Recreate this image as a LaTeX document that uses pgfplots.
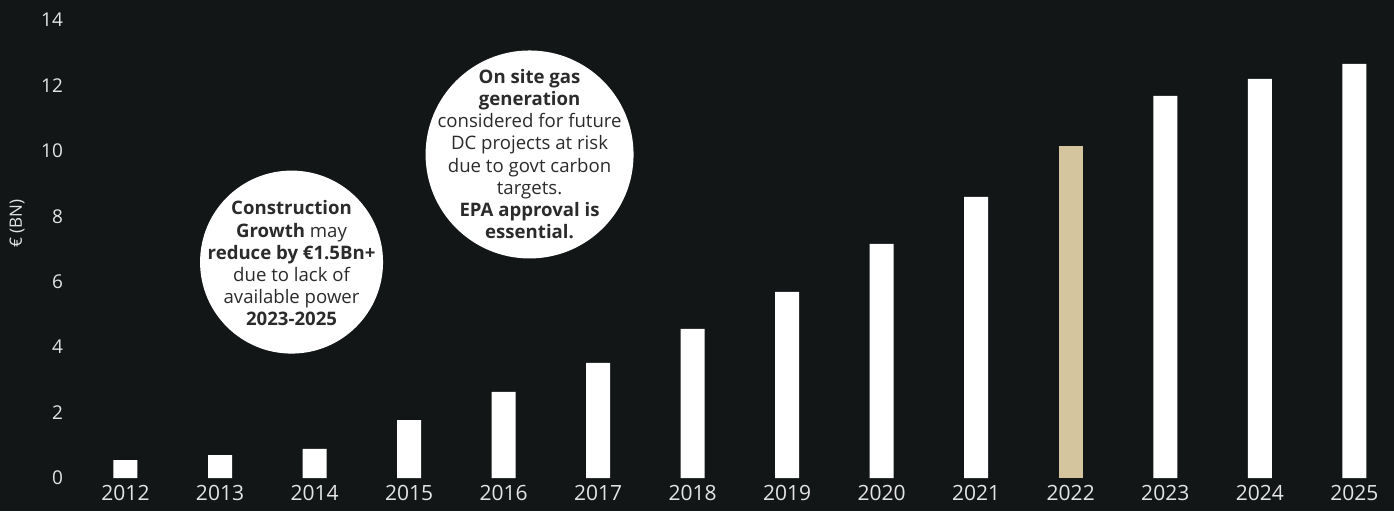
\documentclass[border=0pt]{standalone}
\usepackage{fontspec}
\setmainfont{Open Sans}
\usepackage{pgfplots}
\pgfplotsset{compat=1.18}
\definecolor{bg}{HTML}{131617}
\definecolor{beige}{HTML}{D4C59E}
\definecolor{lbl}{HTML}{E4E4E4}
\definecolor{ink}{HTML}{2B2B2B}

\begin{document}
\begin{tikzpicture}
\fill[bg] (0,0) rectangle (697pt,255.5pt);
\useasboundingbox (0,0) rectangle (697pt,255.5pt);
\begin{axis}[
  at={(35pt,16.5pt)}, anchor=south west,
  scale only axis,
  width=662pt, height=229pt,
  xmin=-0.587, xmax=13.42,
  ymin=0, ymax=14,
  ytick={0,2,...,14},
  xtick={0,...,13},
  xticklabels={2012,2013,2014,2015,2016,2017,2018,2019,2020,2021,2022,2023,2024,2025},
  ybar, bar width=12pt, bar shift=0pt,
  axis line style={draw=none},
  major tick length=0pt,
  /pgf/number format/assume math mode=true,
  yticklabel style={font=\fontsize{9.5}{11}\selectfont, text=lbl},
  xticklabel style={font=\fontsize{10.5}{12}\selectfont, text=lbl},
  ylabel={€ (BN)},
  ylabel style={font=\fontsize{8.5}{10}\selectfont, text=lbl,
    at={(axis description cs:-0.040,0.555)}, anchor=center},
  clip=false,
]
  % white bars
  \addplot[fill=white, draw=none] coordinates {
    (0,0.55) (1,0.70) (2,0.89) (3,1.77) (4,2.63) (5,3.52) (6,4.56)
    (7,5.69) (8,7.16) (9,8.59) (11,11.68) (12,12.20) (13,12.66)
  };
  % highlighted 2022
  \addplot[fill=beige, draw=none] coordinates {(10,10.15)};

  % callout circles
  \fill[white] (axis cs:1.757,6.60) circle[radius=45.75pt];
  \node[align=center, text=ink, font=\fontsize{9.3}{11.1}\selectfont]
    at (axis cs:1.757,6.56)
    {\textbf{Construction}\\\textbf{Growth} may\\\textbf{reduce by €1.5Bn+}\\due to lack of\\available power\\\textbf{2023-2025}};

  \fill[white] (axis cs:4.275,9.89) circle[radius=52pt];
  \node[align=center, text=ink, font=\fontsize{9.3}{11.1}\selectfont]
    at (axis cs:4.275,9.90)
    {\textbf{On site gas}\\\textbf{generation}\\considered for future\\DC projects at risk\\due to govt carbon\\targets.\\\textbf{EPA approval is}\\\textbf{essential.}};
\end{axis}
\end{tikzpicture}
\end{document}
